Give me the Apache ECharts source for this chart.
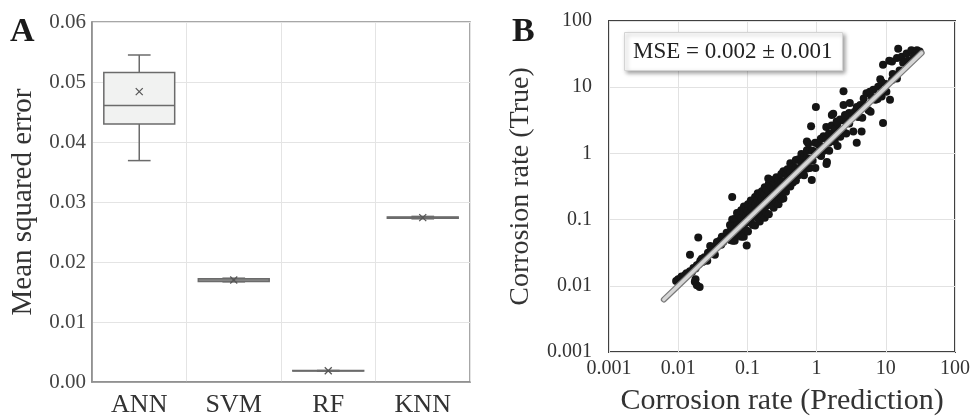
<!DOCTYPE html>
<html>
<head>
<meta charset="utf-8">
<script src="https://cdn.jsdelivr.net/npm/echarts@6/dist/echarts.min.js"></script>
<style>
  html, body { margin: 0; padding: 0; background: #fff; }
  #chart { width: 971px; height: 416px; }
</style>
</head>
<body>
<div id="chart"></div>
<script>
// ---- Panel A: cross-validation error per model ----
const models = ['ANN', 'SVM', 'RF', 'KNN'];
const mseMin    = [0.0369, 0.0167, 0.00182, 0.0272];
const mseQ1     = [0.0430, 0.01675, 0.00183, 0.0273];
const mseMedian = [0.0461, 0.0170, 0.00187, 0.0274];
const mseQ3     = [0.0516, 0.0172, 0.00190, 0.0275];
const mseMax    = [0.0545, 0.0173, 0.00192, 0.0276];
const mseMean   = [0.0484, 0.0170, 0.00187, 0.0274];
const mseTicks  = [0, 0.06, 0.01];   // min, max, step

// ---- Panel B: predicted vs. measured corrosion rate (RF) ----
const rateTicks = [0.001, 100];
const identityRange = [0.0062, 33];
const mseText = { mean: '0.002', std: '0.001' };
// [prediction, true]
const ratePairs = [
  [0.00933,0.0118],[0.0100,0.0126],[0.0110,0.0132],[0.0112,0.0138],[0.0123,0.0135],[0.0132,0.0155],
  [0.0141,0.0151],[0.0148,0.0166],[0.0158,0.0162],[0.0166,0.0186],[0.0178,0.0182],[0.0186,0.0204],
  [0.0200,0.0214],[0.0209,0.0240],[0.0224,0.0229],[0.0240,0.0269],[0.0251,0.0263],[0.0269,0.0316],
  [0.0288,0.0309],[0.0290,0.0398],[0.0316,0.0363],[0.0331,0.0355],[0.0355,0.0417],[0.0380,0.0407],
  [0.0398,0.0479],[0.0427,0.0550],[0.0447,0.0457],[0.0479,0.0562],[0.0501,0.0631],[0.0525,0.0550],
  [0.0174,0.0115],[0.0186,0.0102],[0.0204,0.00955],[0.0178,0.0126],[0.0195,0.0537],[0.0148,0.0295],
  [0.0126,0.0145],[0.0219,0.0257],[0.0302,0.0339],[0.0363,0.0457],[0.0263,0.0240],[0.0417,0.0417],
  [0.0457,0.0501],[0.0339,0.0295],
  [0.0560,0.0832],[0.0571,0.0676],[0.0555,0.0562],[0.0566,0.0490],
  [0.0603,0.100],[0.0598,0.0794],[0.0610,0.0479],
  [0.0646,0.102],[0.0652,0.0724],[0.0640,0.0603],[0.0655,0.0479],
  [0.0708,0.126],[0.0700,0.100],[0.0716,0.0832],[0.0705,0.0631],
  [0.0759,0.115],[0.0768,0.0794],[0.0750,0.0575],
  [0.0813,0.138],[0.0820,0.105],[0.0806,0.0676],[0.0818,0.0550],
  [0.0891,0.158],[0.0880,0.129],[0.0898,0.0977],[0.0885,0.0550],
  [0.0955,0.148],[0.0962,0.115],[0.0948,0.0891],[0.0958,0.0692],
  [0.102,0.170],[0.101,0.135],[0.103,0.102],[0.102,0.0661],
  [0.112,0.195],[0.113,0.155],[0.111,0.126],[0.112,0.0912],
  [0.120,0.178],[0.119,0.148],[0.121,0.115],[0.120,0.0832],
  [0.129,0.219],[0.130,0.166],[0.128,0.112],[0.129,0.0813],
  [0.141,0.251],[0.140,0.200],[0.142,0.151],[0.141,0.105],
  [0.151,0.229],[0.152,0.178],[0.150,0.123],[0.151,0.0933],
  [0.162,0.269],[0.161,0.204],[0.163,0.155],[0.162,0.110],
  [0.178,0.309],[0.176,0.240],[0.179,0.195],[0.177,0.138],[0.178,0.107],
  [0.191,0.282],[0.192,0.219],[0.190,0.162],[0.191,0.123],
  [0.204,0.347],[0.203,0.269],[0.205,0.200],[0.204,0.120],
  [0.224,0.398],[0.225,0.309],[0.222,0.240],[0.224,0.166],
  [0.240,0.372],[0.238,0.288],[0.241,0.209],[0.240,0.151],
  [0.263,0.437],[0.265,0.331],[0.261,0.251],[0.263,0.182],
  [0.282,0.407],[0.280,0.309],[0.284,0.219],[0.282,0.170],
  [0.309,0.490],[0.311,0.372],[0.307,0.282],[0.309,0.204],
  [0.331,0.537],[0.329,0.380],[0.333,0.269],[0.331,0.209],
  [0.363,0.513],[0.365,0.380],[0.361,0.263],
  [0.0603,0.219],[0.0977,0.0407],[0.200,0.417],
  [0.380,0.575],[0.382,0.427],[0.378,0.316],
  [0.417,0.708],[0.415,0.525],[0.419,0.389],[0.417,0.316],
  [0.457,0.631],[0.459,0.457],[0.455,0.363],
  [0.501,0.794],[0.499,0.603],[0.503,0.389],
  [0.550,0.813],[0.552,0.589],[0.548,0.468],
  [0.603,0.977],[0.600,0.741],[0.606,0.550],
  [0.661,0.891],[0.664,0.631],[0.658,0.468],
  [0.724,1.12],[0.720,0.851],[0.728,0.589],
  [0.794,1.12],[0.790,0.832],[0.798,0.603],
  [0.871,1.10],[0.875,0.776],
  [0.955,1.45],[0.950,1.05],[0.960,0.603],
  [1.05,1.38],[1.06,0.977],
  [1.15,1.66],[1.14,1.29],[1.16,0.912],
  [1.26,1.82],[1.27,1.10],
  [1.38,2.51],[1.37,1.66],[1.39,0.692],
  [1.51,2.00],[1.50,1.45],[1.52,1.10],
  [1.66,3.80],[1.65,2.63],[1.67,1.82],
  [1.82,2.29],[1.83,1.51],
  [2.00,2.82],[2.01,1.29],
  [2.19,3.24],[2.18,2.24],[2.20,1.78],
  [2.40,3.16],[2.41,2.14],
  [2.69,3.24],[2.68,2.00],
  [2.95,4.07],[2.96,2.82],
  [0.759,1.41],[0.832,2.57],[0.977,5.01],[0.851,0.398],[1.41,0.741],[0.724,1.51],
  [3.80,1.45],[2.45,8.71],[9.12,2.88],[11.5,6.46],
  [1.74,3.98],[1.95,3.02],[2.45,5.37],[3.02,5.75],[2.57,3.80],[3.39,3.80],[4.27,5.37],[4.79,6.76],
  [5.25,8.13],[5.89,8.51],[6.61,9.12],[7.76,10.2],[8.71,7.24],[10.2,8.51],[8.71,12.0],[12.3,12.9],
  [14.5,13.5],[9.12,21.9],[12.3,24.5],[14.5,27.5],[17.0,28.8],[20.0,32.4],[23.4,36.3],[28.2,36.3],
  [30.9,34.7],[15.1,38.0],[3.39,2.14],[4.47,2.14],[11.2,25.1],
  [3.55,4.27],[3.98,3.55],[5.01,5.25],[5.62,4.47],[6.31,7.08],[7.08,6.46],[8.32,13.2],[10.0,11.2],
  [12.6,15.8],[15.8,17.8],[17.8,23.4],[20.9,25.1],[25.1,28.8],[4.57,3.47],[6.03,4.27],[7.59,6.61],
  [3.80,5.01]
];

const SERIF = "'Liberation Serif', 'Times New Roman', serif";
const TEXT = '#333';

const boxRows = models.map((m, i) =>
  [i, mseMin[i], mseQ1[i], mseMedian[i], mseQ3[i], mseMax[i], mseMean[i]]);

// Box-and-whisker glyph with a mean cross, placed through the category/value axes
function renderBox(params, api) {
  const i = api.value(0);
  const band = api.size([1, 0])[0];
  const bw = band * 0.75;
  const cap = bw * 0.32;
  const pMin = api.coord([i, api.value(1)]);
  const pQ1 = api.coord([i, api.value(2)]);
  const pMed = api.coord([i, api.value(3)]);
  const pQ3 = api.coord([i, api.value(4)]);
  const pMax = api.coord([i, api.value(5)]);
  const pMean = api.coord([i, api.value(6)]);
  const cx = pMed[0];
  const stroke = { stroke: '#6b6b6b', lineWidth: 1.5, fill: null };
  const line = (x1, y1, x2, y2, st) => ({ type: 'line', shape: { x1, y1, x2, y2 }, style: st || stroke });
  const m = 3.5;
  return {
    type: 'group',
    children: [
      line(cx, pQ3[1], cx, pMax[1]),
      line(cx, pQ1[1], cx, pMin[1]),
      line(cx - cap / 2, pMax[1], cx + cap / 2, pMax[1]),
      line(cx - cap / 2, pMin[1], cx + cap / 2, pMin[1]),
      { type: 'rect', shape: { x: cx - bw / 2, y: pQ3[1], width: bw, height: Math.max(pQ1[1] - pQ3[1], 0.5) },
        style: { fill: '#f1f2f1', stroke: '#6b6b6b', lineWidth: 1.5 } },
      line(cx - bw / 2, pMed[1], cx + bw / 2, pMed[1]),
      line(cx - m, pMean[1] - m, cx + m, pMean[1] + m, { stroke: '#555', lineWidth: 1.3 }),
      line(cx - m, pMean[1] + m, cx + m, pMean[1] - m, { stroke: '#555', lineWidth: 1.3 })
    ]
  };
}

const logLabel = v => String(parseFloat(Number(v).toPrecision(3)));

const chart = echarts.init(document.getElementById('chart'), null, { renderer: 'canvas' });
chart.setOption({
  backgroundColor: '#fff',
  animation: false,
  title: [
    { text: 'A', left: 10, top: 15, padding: 0,
      textStyle: { fontFamily: SERIF, fontSize: 34, fontWeight: 'bold', color: '#1a1a1a' } },
    { text: 'B', left: 512, top: 15, padding: 0,
      textStyle: { fontFamily: SERIF, fontSize: 34, fontWeight: 'bold', color: '#1a1a1a' } },
    { text: 'MSE = ' + mseText.mean + ' \u00b1 ' + mseText.std, left: 624, top: 32, padding: [8, 10, 8, 9],
      backgroundColor: '#fff', borderColor: '#d4d4d4', borderWidth: 1,
      shadowBlur: 4, shadowColor: 'rgba(0,0,0,0.35)', shadowOffsetX: 2, shadowOffsetY: 2,
      textStyle: { fontFamily: SERIF, fontSize: 23, fontWeight: 'normal', color: '#222' } }
  ],
  grid: [
    { left: 92, top: 22, width: 378, height: 360, show: true, borderColor: '#8a8a8a', borderWidth: 1.5,
      containLabel: false, outerBoundsMode: 'none' },
    { left: 609, top: 21, width: 346, height: 331, show: true, borderColor: '#404040', borderWidth: 2,
      containLabel: false, outerBoundsMode: 'none' }
  ],
  xAxis: [
    { gridIndex: 0, type: 'category', data: models, boundaryGap: true,
      axisLine: { lineStyle: { color: '#8a8a8a', width: 1.5 } }, axisTick: { show: false },
      axisLabel: { fontFamily: SERIF, fontSize: 26, color: TEXT, margin: 10 },
      splitLine: { show: true, lineStyle: { color: '#e4e4e4', width: 1 } } },
    { gridIndex: 1, type: 'log', logBase: 10, min: rateTicks[0], max: rateTicks[1],
      name: 'Corrosion rate (Prediction)', nameLocation: 'middle', nameGap: 34,
      nameTextStyle: { fontFamily: SERIF, fontSize: 30, color: TEXT },
      axisLine: { show: false }, axisTick: { show: false },
      axisLabel: { fontFamily: SERIF, fontSize: 20, color: TEXT, margin: 7, formatter: logLabel },
      splitLine: { show: true, lineStyle: { color: '#e2e2e2', width: 1 } } }
  ],
  yAxis: [
    { gridIndex: 0, type: 'value', min: mseTicks[0], max: mseTicks[1], interval: mseTicks[2],
      name: 'Mean squared error', nameLocation: 'middle', nameGap: 54,
      nameTextStyle: { fontFamily: SERIF, fontSize: 29, color: TEXT },
      axisLine: { show: true, lineStyle: { color: '#8a8a8a', width: 1.5 } }, axisTick: { show: false },
      axisLabel: { fontFamily: SERIF, fontSize: 21, color: '#444', margin: 6, formatter: v => v.toFixed(2) },
      splitLine: { show: true, lineStyle: { color: '#e4e4e4', width: 1 } } },
    { gridIndex: 1, type: 'log', logBase: 10, min: rateTicks[0], max: rateTicks[1],
      name: 'Corrosion rate (True)', nameLocation: 'middle', nameGap: 74,
      nameTextStyle: { fontFamily: SERIF, fontSize: 28, color: TEXT },
      axisLine: { show: false }, axisTick: { show: false },
      axisLabel: { fontFamily: SERIF, fontSize: 20, color: TEXT, margin: 17, formatter: logLabel },
      splitLine: { show: true, lineStyle: { color: '#e2e2e2', width: 1 } } }
  ],
  series: [
    { type: 'custom', xAxisIndex: 0, yAxisIndex: 0, data: boxRows,
      encode: { x: 0, y: [1, 2, 3, 4, 5, 6] }, renderItem: renderBox, z: 3 },
    { type: 'scatter', xAxisIndex: 1, yAxisIndex: 1, data: ratePairs, symbolSize: 8,
      itemStyle: { color: '#151515', opacity: 1 }, z: 2 },
    { type: 'line', xAxisIndex: 1, yAxisIndex: 1, data: [[identityRange[0], identityRange[0]], [identityRange[1], identityRange[1]]],
      symbol: 'none', lineStyle: { color: '#7a7a7a', width: 6, cap: 'round' }, z: 3 },
    { type: 'line', xAxisIndex: 1, yAxisIndex: 1, data: [[identityRange[0], identityRange[0]], [identityRange[1], identityRange[1]]],
      symbol: 'none', lineStyle: { color: '#d6d6d6', width: 3.5, cap: 'round' }, z: 4 }
  ]
});
</script>
</body>
</html>
